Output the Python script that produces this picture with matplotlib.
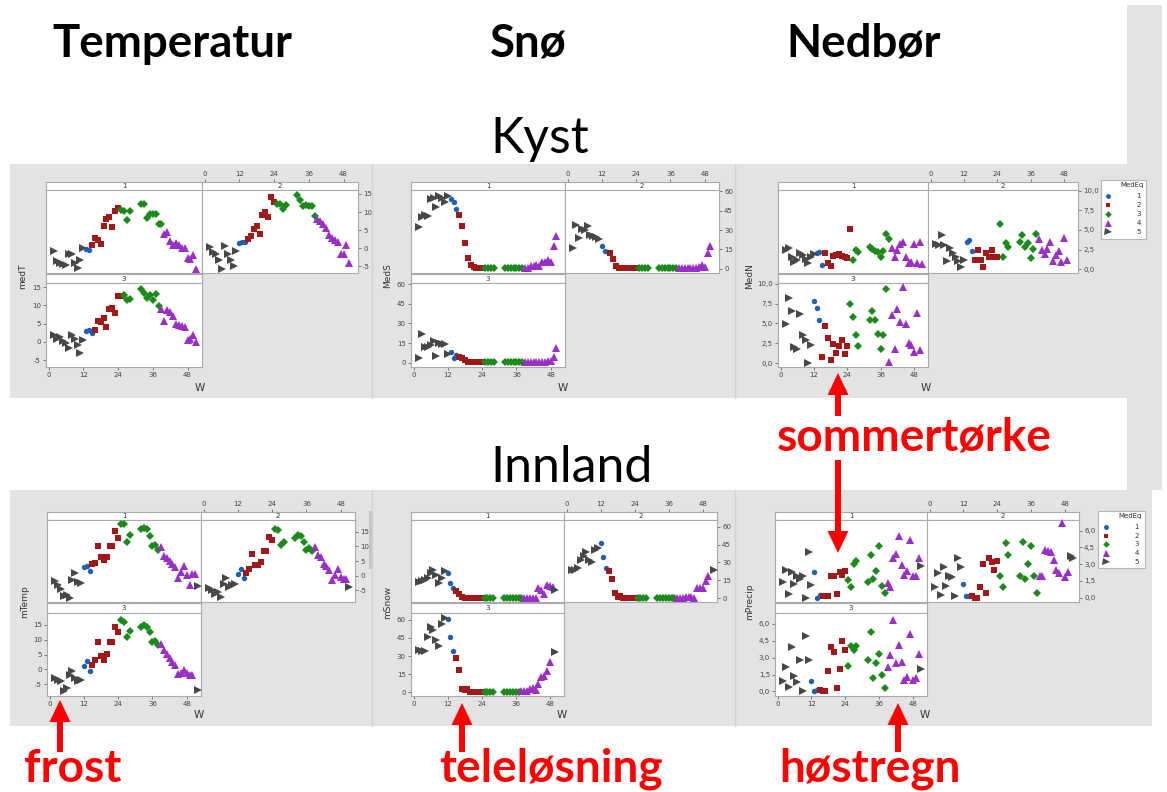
import numpy as np
import matplotlib
matplotlib.use("Agg")
import matplotlib.pyplot as plt
from matplotlib.patches import Rectangle, FancyArrow

N = np.nan
WEEKS = np.arange(1, 53)
W_TICKS = [0, 12, 24, 36, 48]
W_TICKLABELS = ["0", "12", "24", "36", "48"]

# Weekly values, weeks 1..52 (nan = no observation); group strings give MedEq per week
# ---------------- Kyst ----------------
MEDT_1 = [N, -0.8, -3.6, -4.0, -4.3, -4.7, -1.6, -1.5, -4.0, -5.6,
          -3.4, -0.1, -0.2, -0.5, 0.8, 2.8, 2.2, 1.2, 6.1, 8.1,
          8.6, 5.8, 10.4, 11.0, 10.5, 10.4, 7.7, 10.4, N, N,
          N, 12.2, 12.1, 8.3, 9.5, 9.5, 9.4, 6.7, 6.6, 4.0,
          4.4, 2.0, 0.8, 1.5, 0.8, 0.0, 0.0, -2.7, -3.0, -2.0,
          -5.8, N]
MEDT_1_GRP = "- 55555555555 11 2222222222 3333 --- 33333333 444444444444 -"
MEDT_2 = [N, 0.3, -1.2, -1.5, -3.4, -5.8, 0.5, -1.7, -3.4, -4.9,
          -0.9, 1.5, 1.7, 1.6, 2.6, 3.3, 5.4, 6.1, 4.0, 9.2,
          10.0, 8.6, 14.1, 12.7, 12.2, 12.2, 10.9, 12.0, N, N,
          N, 14.7, 13.4, 11.6, 12.0, 11.8, 11.6, 9.0, 8.1, 7.4,
          6.7, 5.6, 3.5, 2.9, 2.2, 1.7, -1.5, -1.5, 0.8, -4.0,
          N, N]
MEDT_2_GRP = "- 5555555555 111 2222222222 3333 --- 3333333 444444444444 --"
MEDT_3 = [N, 1.8, 0.9, 1.4, 0.3, -0.3, -1.6, 1.8, 0.9, -0.9,
          -3.0, 0.6, 3.0, 3.2, 2.5, 3.2, 5.6, 5.5, 6.4, 4.1,
          8.9, 9.3, 7.9, 12.5, 12.5, 12.7, 11.4, 11.7, N, N,
          N, 14.4, 13.4, 12.0, 12.7, 11.4, 13.0, 9.8, 9.1, 5.6,
          8.6, 8.2, 7.1, 5.0, 4.7, 4.4, 4.1, 0.5, 0.9, 1.8,
          0.0, N]
MEDT_3_GRP = "- 55555555555 111 2222222222 333 --- 3333333 4444444444444 -"

MEDS_1 = [N, 32, 40, 41.6, 40.5, 54, 54.6, 47.7, 56.2, 54.6,
          52, 56.2, 54, 52, 46.5, 41.4, 33, 20.2, 8.7, 2.6,
          1.0, 0.5, 0.3, 0.3, 0.3, 0.3, 0.4, 0.5, N, N,
          N, 0.2, 0.2, 0.2, 0.2, 0.2, 0.2, 0.2, 0.4, 0.6,
          1.8, 2.5, 3.0, 2.4, 5.6, 5.6, 6.9, 5.6, 17.6, 25.3,
          N, N]
MEDS_1_GRP = "- 55555555555 111 222222222 3333 --- 3333333 444444444444 --"
MEDS_2 = [N, 15.8, 33.7, 24, 31, 30, 33.2, 26, 25.5, 24.8,
          23, 17.6, 13.8, 12.8, 12, 7.4, 1.8, 0.3, 0.2, 0.2,
          0.2, 0.2, 0.2, 0.2, 0.2, 0.2, 0.2, 0.2, N, N,
          N, 0.2, 0.2, 0.2, 0.2, 0.2, 0.2, 0.2, 0.5, 0.6,
          0.5, 0.8, 0.6, 0.7, 0.8, 1.0, 3.0, 1.5, 12, 17.6,
          N, N]
MEDS_2_GRP = "- 5555555555 111 2222222222 3333 --- 3333333 444444444444 --"
MEDS_3 = [N, 3.4, 21.6, 11.7, 11.7, 13.2, 16.4, 5.5, 15, 14.5,
          14.5, 6.5, 8, 3.4, 6, 4.7, 3.4, 2, 0.8, 0.3,
          0.2, 0.2, 0.2, 0.2, 0.3, 0.3, 0.3, 0.3, N, N,
          N, 0.2, 0.2, 0.2, 0.2, 0.2, 0.2, 0.2, 0.5, 0.6,
          0.5, 0.7, 0.6, 0.8, 0.7, 0.9, 1.0, 1.2, 4.7, 11.2,
          N, N]
MEDS_3_GRP = "- 55555555555 111 222222222 3333 --- 3333333 444444444444 --"

MEDN_1 = [N, 2.5, 2.7, 1.5, 0.9, 1.2, 2.1, 1.8, 1.3, 0.75,
          1.6, 1.9, 2.1, 2.2, 0.5, 2.0, 0.75, 0.4, 1.7, 1.8,
          1.9, 1.7, 1.6, 1.4, 5.1, 1.2, 2.4, 2.2, N, N,
          N, 2.8, 2.6, 2.3, 2.2, 1.6, 2.3, 4.5, 3.8, 2.7,
          1.6, 2.4, 3.2, 3.4, 1.5, 0.75, 0.9, 3.25, 0.75, 3.5,
          0.6, N]
MEDN_1_GRP = "- 55555555555 111 2222222222 333 --- 33333333 444444444444 -"
MEDN_2 = [N, 3.2, 3.1, 4.3, 3.1, 1.0, 2.7, 2.1, 1.6, 1.0,
          0.3, 1.1, 3.4, 3.7, 2.3, 1.2, 2.5, 1.2, 0.3, 2.1,
          1.5, 2.5, 1.5, 1.5, 5.8, 1.6, 3.3, 2.8, N, N,
          N, 3.4, 4.3, 2.8, 3.3, 1.4, 2.6, 4.5, 3.9, 2.4,
          1.9, 2.6, 3.4, 1.0, 1.8, 2.3, 0.9, 4.0, 1.1, N,
          N, N]
MEDN_2_GRP = "- 55555555555 111 222222222 3333 --- 3333333 44444444444 ---"
MEDN_3 = [N, 4.9, 8.2, 6.6, 2.0, 1.8, 6.2, 3.6, 2.9, 0.0,
          2.3, 7.8, 7.0, 5.4, 0.8, 4.7, 3.2, 0.4, 2.4, 1.3,
          2.2, 2.9, 1.1, 2.2, 7.4, 5.8, 3.6, 2.2, N, N,
          N, 5.4, 6.6, 5.4, 3.7, 1.8, 3.5, 9.3, 0.1, 6.1,
          1.8, 6.8, 5.2, 9.6, 4.9, 2.5, 2.3, 1.4, 6.3, 1.6,
          N, N]
MEDN_3_GRP = "- 5555555555 111 2222222222 3333 --- 3333333 444444444444 --"

# ---------------- Innland ----------------
MTEMP_1 = [N, -1.8, -3.3, -4.4, -7.0, -6.7, -7.5, -1.6, 1.0, -2.0,
           -2.6, 3.0, 3.3, 1.5, 3.9, 4.4, 10.1, 6.4, 5.3, 6.4,
           10.1, 10.1, 15.2, 12.9, 17.6, 17.6, 11.6, 13.9, N, N,
           N, 15.9, 16.1, 15.8, 13.5, 10.1, 10.4, 8.7, 9.9, 6.7,
           5.9, 5.1, 3.9, 2.8, -0.7, 1.3, 3.2, 0.1, -3.3, 0.7,
           0.7, -3.6]
MTEMP_1_GRP = "- 5555555555 111 2222222222 3333 --- 3333333 4444444444444 5"
MTEMP_2 = [N, -4.1, -4.8, -6.4, -5.6, -7.3, -2.7, -0.7, -3.9, -3.3,
           -2.9, 0.5, 2.2, -0.7, 0.9, 2.4, 7.3, 3.6, 3.6, 4.7,
           8.5, 8.5, 13.1, 12.1, 15.8, 15.6, 10.4, 11.6, N, N,
           N, 12.7, 13.9, 13.5, 11.6, 8.9, 9.5, 8.5, 9.9, 7.0,
           6.2, 4.1, 3.2, 1.9, -1.6, 0.1, 2.4, -0.4, -1.0, -1.3,
           -3.9, N]
MTEMP_2_GRP = "- 5555555555 111 2222222222 3333 --- 3333333 444444444444 5 -"
MTEMP_3 = [N, -3.0, -3.5, -4.1, -7.3, -6.4, -1.8, -0.7, -3.0, -3.9,
           -3.5, 1.1, 2.8, -0.4, 1.6, 3.3, 9.1, 4.5, 3.3, 5.1,
           9.1, 9.1, 14.2, 12.5, 16.5, 15.9, 10.8, 12.8, N, N,
           N, 14.2, 14.8, 14.4, 12.5, 9.1, 9.4, 8.3, 8.7, 6.4,
           5.1, 3.9, 2.5, 1.6, -1.6, -1.2, -0.1, -1.2, -1.8, -2.0,
           N, -7.0]
MTEMP_3_GRP = "- 5555555555 111 2222222222 3333 --- 3333333 444444444444 - 5"

MSNOW_1 = [N, 13.8, 14.2, 15.1, 17.3, 21.2, 23.4, 19.3, 13.0, 17.1,
           22.5, 21.2, 12.9, 8.3, 6.0, 3.6, 0.8, 0.3, 0.3, 0.3,
           0.3, 0.3, 0.3, 0.3, 0.3, 0.3, 0.3, 0.3, N, N,
           N, 0.3, 0.3, 0.3, 0.3, 0.3, 0.3, 0.3, 0.4, 0.4,
           0.5, 0.5, 0.6, 8.3, 6.9, 3.6, 11.0, 10.5, 9.6, 6.9,
           N, N]
MSNOW_1_GRP = "- 5555555555 111 2222222222 3333 --- 3333333 44444444444 5 --"
MSNOW_2 = [N, 23.4, 24.0, 25.6, 31.7, 35.8, 38.5, 31.7, 30.3, 40.5,
           42.1, 46.0, 34.4, 25.6, 22.8, 16.5, 4.7, 0.8, 1.9, 0.5,
           0.3, 0.3, 0.3, 0.3, 0.3, 0.3, 0.3, 0.3, N, N,
           N, 0.3, 0.3, 0.3, 0.3, 0.3, 0.3, 0.3, 0.5, 0.6,
           0.5, 0.8, 1.2, 0.9, 0.5, 9.1, 8.5, 8.3, 14.6, 18.4,
           N, 23.4]
MSNOW_2_GRP = "- 5555555555 111 2222222222 3333 --- 3333333 444444444444 - 5"
MSNOW_3 = [N, 35.1, 34.3, 33.8, 45.9, 54.0, 51.4, 43.2, 38.6, 56.8,
           61.4, 60.8, 45.4, 33.8, 28.4, 18.1, 2.7, 1.9, 2.7, 0.5,
           0.5, 0.5, 0.5, 0.5, 0.5, 0.5, 0.5, 0.5, N, N,
           N, 0.5, 0.5, 0.5, 0.5, 0.5, 0.5, 1.0, 1.0, 1.0,
           2.7, 4.0, 2.0, 7.3, 13.0, 13.5, 17.6, 25.1, N, 33.2,
           N, N]
MSNOW_3_GRP = "- 5555555555 111 2222222222 3333 --- 333333 44444444444 - 5 --"

MPRECIP_1 = [N, 1.4, 2.5, 0.35, 2.3, 1.2, 1.9, 1.7, 1.9, 0.0,
             4.05, 1.1, 2.3, 0.0, 0.2, 0.1, 0.1, 0.1, 1.9, 1.9,
             0.3, 2.3, 2.0, 2.4, 1.6, 0.9, 3.0, 3.3, N, N,
             N, 1.4, 3.8, 1.7, 2.4, 4.6, 1.0, 0.4, 1.3, 0.9,
             3.5, 3.9, 5.5, 2.9, 2.0, 2.4, 5.2, 1.9, 1.9, 3.5,
             2.8, N]
MPRECIP_1_GRP = "- 55555555555 111 222222222 3333 --- 3333333 444444444444 5 -"
MPRECIP_2 = [N, 0.95, 2.2, 0.2, 2.7, 1.0, 1.9, 1.8, 0.1, 3.5,
             2.7, 1.2, 0.1, 0.15, 0.1, 0.0, 0.0, 0.9, 3.0, 0.45,
             3.5, 3.2, 2.5, 3.3, 1.9, 0.9, 4.9, 3.8, N, N,
             N, 1.9, 5.0, 1.7, 3.0, 4.6, 1.9, 0.45, 1.9, 1.9,
             4.3, 4.2, 4.1, 3.4, 2.5, 2.2, 6.65, 1.8, 2.3, 3.75,
             3.5, N]
MPRECIP_2_GRP = "- 5555555555 111 2222222222 3333 --- 3333333 44444444444 55 -"
MPRECIP_3 = [N, 0.9, 2.2, 0.4, 3.9, 1.4, 0.8, 2.75, 0.0, 4.9,
             2.8, 0.9, 0.0, 0.1, 0.1, 0.0, 0.0, 1.8, 3.9, 3.5,
             0.3, 2.0, 4.5, 3.7, 2.3, 4.0, 3.7, 4.0, N, N,
             N, 2.75, 5.3, 1.2, 2.55, 3.3, 1.5, 0.35, 2.2, 3.2,
             6.3, 2.5, 4.1, 2.6, 1.0, 1.25, 5.1, 1.0, 1.15, 3.3,
             2.0, N]
MPRECIP_3_GRP = "- 5555555555 111 2222222222 3333 --- 3333333 444444444444 5 -"

# MedEq marker styles: (marker, colour, size)
GROUP_STYLE = {
    "1": ("o", "#1f5fb4", 3.9),
    "2": ("s", "#a01818", 3.9),
    "3": ("D", "#1b8a1b", 3.7),
    "4": ("^", "#9a2fc8", 5.6),
    "5": (">", "#474747", 5.6),
}

W_PX, H_PX = 1167, 792
BAND_GREY = "#e3e3e3"
FRAME = "#a9a9a9"
RED = "#ff0000"

fig = plt.figure(figsize=(W_PX / 100, H_PX / 100), dpi=100)
fig.patch.set_facecolor("white")


def rect(x0, y0, x1, y1):
    return [x0 / W_PX, 1 - y1 / H_PX, (x1 - x0) / W_PX, (y1 - y0) / H_PX]


# background layer in pixel coordinates
bg = fig.add_axes([0, 0, 1, 1], zorder=0)
bg.set_xlim(0, W_PX)
bg.set_ylim(H_PX, 0)
bg.axis("off")
bg.add_patch(Rectangle((1127, 5), 35, 485, fc=BAND_GREY, ec="none"))
bg.add_patch(Rectangle((10, 164), 1117, 234, fc=BAND_GREY, ec="none"))
bg.add_patch(Rectangle((10, 490), 1142, 236, fc=BAND_GREY, ec="none"))
for xs in (372, 735):
    bg.plot([xs, xs], [164, 398], color="#d2d2d2", lw=1)
    bg.plot([xs, xs], [490, 726], color="#d2d2d2", lw=1)
bg.add_patch(Rectangle((369, 511), 3, 58, fc="#c4c4c4", ec="none"))


def style_frame(ax):
    for s in ax.spines.values():
        s.set_color(FRAME)
        s.set_linewidth(0.8)
    ax.tick_params(colors="#666666", labelcolor="#444444", labelsize=5,
                   length=2.5, width=0.6, pad=1.2)


def scatter_groups(ax, values, groups):
    g = (groups.replace(" ", "") + "-" * 52)[:52]
    v = np.asarray(values, float)
    for key, (mk, col, ms) in GROUP_STYLE.items():
        mask = np.array([c == key for c in g]) & ~np.isnan(v)
        ax.plot(WEEKS[mask], v[mask], linestyle="none", marker=mk, color=col,
                ms=ms, mew=0, clip_on=False, zorder=3)


def draw_block(left, width, geo, panels, ylim, yticks, ylabels, ylab, ylab_x):
    s1a, s1b, p1a, p1b, s3a, s3b, p3a, p3b, w_y, lab_y = geo
    xlim = (-0.9, 53)
    for i, (vals, grp) in enumerate(panels):
        if i < 2:
            x0 = left + i * width
            sa, sb, pa, pb = s1a, s1b, p1a, p1b
        else:
            x0 = left
            sa, sb, pa, pb = s3a, s3b, p3a, p3b
        strip = fig.add_axes(rect(x0, sa, x0 + width, sb))
        ax = fig.add_axes(rect(x0, pa, x0 + width, pb))
        for a in (strip, ax):
            a.set_facecolor("white")
            a.set_xlim(*xlim)
            style_frame(a)
            a.set_xticks([])
            a.set_yticks([])
        strip.set_ylim(0, 1)
        strip.text(0.5, 0.45, str(i + 1), transform=strip.transAxes,
                   ha="center", va="center", fontsize=5, color="#333333")
        ax.set_ylim(*ylim)
        scatter_groups(ax, vals, grp)
        if i == 1:
            strip.set_xticks(W_TICKS)
            strip.set_xticklabels(W_TICKLABELS)
            strip.tick_params(top=True, labeltop=True, bottom=False, labelbottom=False)
            ax.yaxis.tick_right()
            ax.set_yticks(yticks)
            ax.set_yticklabels(ylabels)
        elif i == 2:
            ax.set_xticks(W_TICKS)
            ax.set_xticklabels(W_TICKLABELS)
            ax.set_yticks(yticks)
            ax.set_yticklabels(ylabels)
    fig.text(ylab_x / W_PX, 1 - lab_y / H_PX, ylab, rotation=90, ha="center",
             va="center", fontsize=6.5, color="#333333")
    fig.text((left + width - 2) / W_PX, 1 - w_y / H_PX, "W", ha="center",
             va="center", fontsize=7.5, color="#333333")


def draw_legend(x0, y0, x1, y1, title_y, rows_y, marker_x, num_x):
    bg.add_patch(Rectangle((x0, y0), x1 - x0, y1 - y0, fc="white",
                           ec="#b5b5b5", lw=0.8))
    bg.text(num_x + 3, title_y, "MedEq", ha="right", va="center",
            fontsize=5, color="#333333")
    for key, y in zip("12345", rows_y):
        mk, col, ms = GROUP_STYLE[key]
        bg.plot([marker_x], [y], marker=mk, color=col, ms=ms * 0.9, mew=0, ls="none")
        bg.text(num_x, y, key, ha="right", va="center", fontsize=5, color="#333333")


KYST_GEO = (182, 190, 190, 273, 274, 283, 283, 367, 388, 276)
INNLAND_GEO = (512, 520, 520, 602, 603, 613, 613, 696, 715, 602)

T_TICKS = [-5, 0, 5, 10, 15]
T_LABELS = ["-5", "0", "5", "10", "15"]
S_TICKS = [0, 15, 30, 45, 60]
S_LABELS = ["0", "15", "30", "45", "60"]
NK_TICKS = [0, 2.5, 5, 7.5, 10]
NK_LABELS = ["0,0", "2,5", "5,0", "7,5", "10,0"]
NI_TICKS = [0, 1.5, 3, 4.5, 6]
NI_LABELS = ["0,0", "1,5", "3,0", "4,5", "6,0"]

# Kyst
draw_block(46, 156, KYST_GEO,
           [(MEDT_1, MEDT_1_GRP), (MEDT_2, MEDT_2_GRP), (MEDT_3, MEDT_3_GRP)],
           (-6.9, 16.1), T_TICKS, T_LABELS, "medT", 23)
draw_block(411, 154, KYST_GEO,
           [(MEDS_1, MEDS_1_GRP), (MEDS_2, MEDS_2_GRP), (MEDS_3, MEDS_3_GRP)],
           (-3.3, 61), S_TICKS, S_LABELS, "MedS", 388)
draw_block(778, 150, KYST_GEO,
           [(MEDN_1, MEDN_1_GRP), (MEDN_2, MEDN_2_GRP), (MEDN_3, MEDN_3_GRP)],
           (-0.5, 10.1), NK_TICKS, NK_LABELS, "MedN", 750)
draw_legend(1101, 180, 1146, 239, 185, [196, 205, 214, 223, 232], 1108, 1141)

# Innland
draw_block(47, 154, INNLAND_GEO,
           [(MTEMP_1, MTEMP_1_GRP), (MTEMP_2, MTEMP_2_GRP), (MTEMP_3, MTEMP_3_GRP)],
           (-9, 19), T_TICKS, T_LABELS, "mTemp", 25)
draw_block(411, 153, INNLAND_GEO,
           [(MSNOW_1, MSNOW_1_GRP), (MSNOW_2, MSNOW_2_GRP), (MSNOW_3, MSNOW_3_GRP)],
           (-3, 65.5), S_TICKS, S_LABELS, "mSnow", 388)
draw_block(775, 152, INNLAND_GEO,
           [(MPRECIP_1, MPRECIP_1_GRP), (MPRECIP_2, MPRECIP_2_GRP), (MPRECIP_3, MPRECIP_3_GRP)],
           (-0.4, 6.95), NI_TICKS, NI_LABELS, "mPrecip", 750)
draw_legend(1098, 511, 1145, 568, 516, [527, 536, 544, 553, 562], 1106, 1139)

# headings and annotations on top
top = fig.add_axes([0, 0, 1, 1], zorder=20)
top.set_xlim(0, W_PX)
top.set_ylim(H_PX, 0)
top.axis("off")
top.patch.set_alpha(0)

renderer = fig.canvas.get_renderer()


def size_for_width(text, target, **kw):
    probe = 30
    t = top.text(0, 0, text, fontsize=probe, **kw)
    w = t.get_window_extent(renderer=renderer).width
    t.remove()
    return probe * target / w


HEAD_FONT = dict(family="Lato", weight="bold")
hs = size_for_width("Temperatur", 240, **HEAD_FONT)
for txt, x in (("Temperatur", 52), ("Snø", 490), ("Nedbør", 786)):
    top.text(x, 57, txt, fontsize=hs, ha="left", va="baseline", color="black", **HEAD_FONT)

REGION_FONT = dict(family="Lato", weight="normal")
rs = size_for_width("Innland", 162, **REGION_FONT)
top.text(490, 153, "Kyst", fontsize=rs, ha="left", va="baseline", color="black", **REGION_FONT)
top.text(490, 482, "Innland", fontsize=rs, ha="left", va="baseline", color="black", **REGION_FONT)

ns = size_for_width("sommertørke", 275, **HEAD_FONT)
top.text(777, 450, "sommertørke", fontsize=ns, ha="left", va="baseline", color=RED, **HEAD_FONT)
top.text(24, 782, "frost", fontsize=ns, ha="left", va="baseline", color=RED, **HEAD_FONT)
top.text(439, 782, "teleløsning", fontsize=ns, ha="left", va="baseline", color=RED, **HEAD_FONT)
top.text(779, 782, "høstregn", fontsize=ns, ha="left", va="baseline", color=RED, **HEAD_FONT)


def red_arrow(x, y_tail, y_tip):
    top.add_patch(FancyArrow(x, y_tail, 0, y_tip - y_tail, width=6, head_width=21,
                             head_length=22, length_includes_head=True,
                             color=RED, lw=0))


red_arrow(60, 752, 700)
red_arrow(462, 752, 703)
red_arrow(898, 752, 703)
red_arrow(838, 416, 373)
red_arrow(838, 460, 553)

fig.savefig("out.png", dpi=100, facecolor="white")
